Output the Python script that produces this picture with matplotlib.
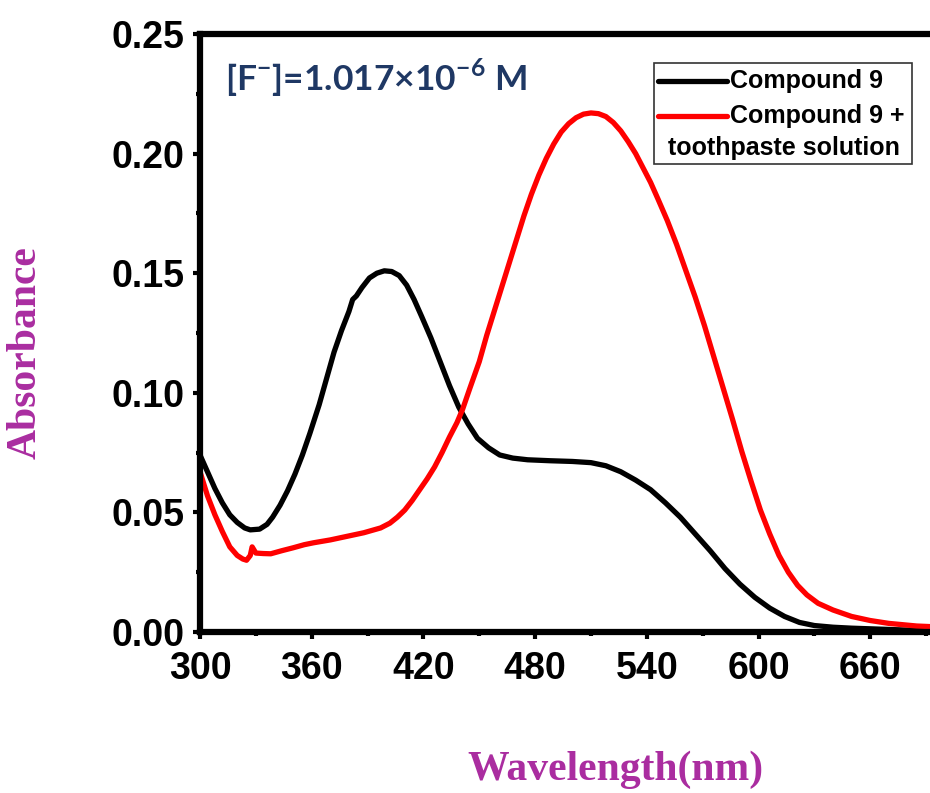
import matplotlib
matplotlib.use('Agg')
import matplotlib.pyplot as plt
from matplotlib.patches import Rectangle
from matplotlib.ticker import MultipleLocator

plt.rcParams['font.family'] = ['Liberation Sans', 'DejaVu Sans']
plt.rcParams['mathtext.fontset'] = 'custom'
plt.rcParams['mathtext.rm'] = 'Lato:bold'
plt.rcParams['mathtext.bf'] = 'Lato:bold'

# UV-vis spectra (wavelength in nm, absorbance)
cmpd_wl = [300, 304, 308, 312, 316, 320, 324, 327, 332, 336, 339, 343, 347, 351,
           355, 359, 364, 368, 372, 376, 380, 382, 384, 387, 391, 395, 399, 403,
           407, 411, 415, 419, 424, 429, 434, 439, 444, 449, 455, 461, 468, 476,
           488, 500, 510, 518, 526, 534, 542, 550, 558, 566, 574, 582, 590, 598,
           606, 614, 622, 630, 640, 650, 665, 680, 700]
cmpd_abs = [0.074, 0.067, 0.060, 0.054, 0.049, 0.0458, 0.0435, 0.0427, 0.043,
            0.045, 0.048, 0.053, 0.059, 0.066, 0.074, 0.083, 0.095, 0.106, 0.117,
            0.126, 0.134, 0.139, 0.1405, 0.144, 0.148, 0.150, 0.151, 0.1507,
            0.149, 0.145, 0.139, 0.132, 0.123, 0.113, 0.103, 0.094, 0.087, 0.081,
            0.077, 0.074, 0.0727, 0.072, 0.0716, 0.0713, 0.0708, 0.0695, 0.067,
            0.0635, 0.0595, 0.054, 0.048, 0.041, 0.034, 0.0265, 0.020, 0.0145,
            0.010, 0.0065, 0.004, 0.0027, 0.002, 0.0016, 0.0012, 0.0008, 0.0005]

paste_wl = [300, 304, 308, 312, 316, 320, 323, 325, 327, 328, 330, 334, 338, 344,
            350, 356, 361, 370, 379, 388, 397, 402, 406, 410, 414, 418, 422, 426,
            430, 434, 438, 441, 445, 450, 454, 458, 462, 466, 470, 474, 478, 482,
            486, 490, 494, 498, 502, 506, 510, 514, 518, 522, 526, 530, 534, 538,
            542, 546, 551, 556, 561, 566, 571, 576, 581, 586, 591, 596, 601, 606,
            611, 616, 621, 626, 632, 640, 650, 660, 670, 685, 700]
paste_abs = [0.067, 0.057, 0.049, 0.042, 0.0356, 0.032, 0.0305, 0.030, 0.032,
             0.0356, 0.033, 0.0328, 0.0327, 0.034, 0.0352, 0.0365, 0.0373, 0.0385,
             0.040, 0.0415, 0.0435, 0.0455, 0.048, 0.051, 0.055, 0.0595, 0.064,
             0.069, 0.075, 0.0815, 0.0875, 0.093, 0.102, 0.113, 0.124, 0.134,
             0.144, 0.154, 0.164, 0.174, 0.183, 0.191, 0.198, 0.204, 0.209,
             0.2125, 0.215, 0.2165, 0.217, 0.2167, 0.2155, 0.213, 0.2095, 0.205,
             0.200, 0.194, 0.188, 0.181, 0.172, 0.162, 0.151, 0.140, 0.128, 0.115,
             0.102, 0.089, 0.0755, 0.063, 0.051, 0.041, 0.032, 0.025, 0.0195,
             0.0155, 0.012, 0.0092, 0.0065, 0.0048, 0.0036, 0.0025, 0.002]

W, H = 930, 793
fig = plt.figure(figsize=(W / 100, H / 100), dpi=100)
# axes runs past the right edge of the canvas, as in the original export
ax = fig.add_axes([200 / W, (H - 632) / H, 744.7 / W, 598 / H])

ax.plot(cmpd_wl, cmpd_abs, color='black', lw=3.8, solid_capstyle='round')
ax.plot(paste_wl, paste_abs, color='#ff0000', lw=3.8, solid_capstyle='round')

ax.set_xlim(300, 700)
ax.set_ylim(0, 0.25)
ax.xaxis.set_major_locator(MultipleLocator(60))
ax.xaxis.set_minor_locator(MultipleLocator(30))
ax.yaxis.set_major_locator(MultipleLocator(0.05))
ax.yaxis.set_minor_locator(MultipleLocator(0.025))
ax.yaxis.set_major_formatter(plt.FuncFormatter(lambda v, p: f'{v:.2f}'))

for s in ax.spines.values():
    s.set_linewidth(4.5)
ax.spines['right'].set_visible(False)

ax.tick_params(which='major', direction='out', length=5, width=3,
               labelsize=27)
ax.tick_params(which='minor', direction='out', length=3, width=3)
ax.tick_params(axis='x', pad=9)
ax.tick_params(axis='y', pad=6)
for lbl in ax.get_xticklabels() + ax.get_yticklabels():
    lbl.set_fontweight('bold')

label_color = '#aa2da0'
fig.text(615 / W, (H - 770) / H, 'Wavelength(nm)', ha='center', va='center',
         fontsize=30, fontweight='bold', family='Liberation Serif',
         color=label_color)
fig.text(26 / W, (H - 353) / H, 'Absorbance', ha='center', va='center',
         rotation=90, fontsize=30, fontweight='bold', family='Liberation Serif',
         color=label_color)

# fluoride concentration note
ax.text(0.034, 0.905, r'[F$^{-}$]=1.017×10$^{-6}$ M', transform=ax.transAxes,
        fontsize=25.5, fontweight='bold', family='Lato', color='#1f3864',
        va='baseline')

# legend box with the wrapped second label
ax.add_patch(Rectangle((0.6096, 0.7826), 0.3465, 0.1689, transform=ax.transAxes,
                       fill=False, edgecolor='#333333', lw=1.2, zorder=5))
ax.plot([0.615, 0.7077], [0.9214, 0.9214], transform=ax.transAxes,
        color='black', lw=3.8, solid_capstyle='round', zorder=6)
ax.plot([0.615, 0.7077], [0.8634, 0.8634], transform=ax.transAxes,
        color='#ff0000', lw=3.8, solid_capstyle='round', zorder=6)
leg_kw = dict(transform=ax.transAxes, fontsize=18, fontweight='bold',
              va='center', ha='left', zorder=6)
ax.text(0.7117, 0.9214, 'Compound 9', **leg_kw)
ax.text(0.7117, 0.8634, 'Compound 9 +', **leg_kw)
ax.text(0.6284, 0.8094, 'toothpaste solution', **leg_kw)

fig.savefig('out.png', dpi=100)
